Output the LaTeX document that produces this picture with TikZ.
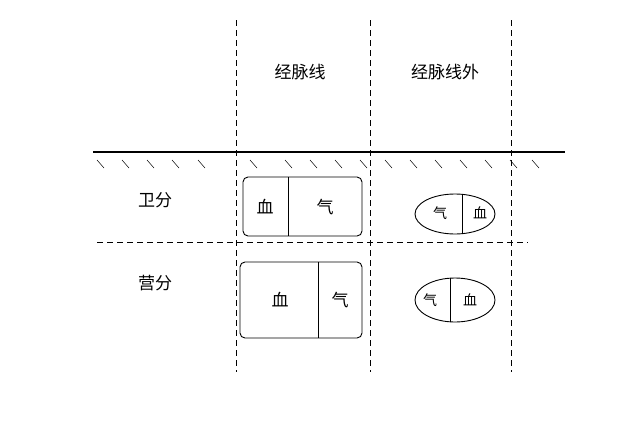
\documentclass[tikz,border=0pt]{standalone}
\usepackage{fontspec}
\newfontfamily\cjk{Noto Sans CJK SC}
\usetikzlibrary{shapes.geometric}
\begin{document}
\begin{tikzpicture}[x=1pt,y=-1pt,
  dl/.style={dashed,line width=0.8pt,dash pattern=on 6pt off 4pt},
  txt/.style={font=\cjk\fontsize{17}{17}\selectfont,inner sep=0pt},
  sm/.style={font=\cjk\fontsize{14}{14}\selectfont,inner sep=0pt},
  box/.style={draw,line width=0.9pt,rounded corners=5pt},
  ell/.style={draw,ellipse,line width=0.9pt,inner sep=0pt}]
\useasboundingbox (0,0) rectangle (640,437);
\foreach \x in {236,370,511} \draw[dl] (\x,20) -- (\x,372);
\draw[line width=2.2pt] (93,152) -- (565,152);
\foreach \x in {97,122,147,172,198,250,285,310,335,360,385,410,435,460,485,510,532}
  \draw[line width=0.5pt] (\x,160) -- (\x+7,168);
\draw[dl] (97,242) -- (528,242);
\node[txt] (l1) at (300,72) {经脉线};
\node[txt] (l2) at (445,72) {经脉线外};
\node[txt] (w) at (155,200) {卫分};
\node[txt] (y) at (155,283) {营分};
\draw[box] (243,177) rectangle (362,236);
\draw[line width=0.9pt] (288,177) -- (288,236);
\node[txt] (b1) at (265,207) {血};
\node[txt] (q1) at (325,207) {气};
\draw[box] (240,262) rectangle (362,338);
\draw[line width=0.9pt] (318,262) -- (318,338);
\node[txt] (b2) at (280,300) {血};
\node[txt] (q2) at (340,300) {气};
\node[ell,minimum width=80pt,minimum height=40pt] (e1) at (455,214) {};
\draw[line width=0.9pt] (462,194) -- (462,234);
\node[sm] (q3) at (440,213) {气};
\node[sm] (b3) at (480,213) {血};
\node[ell,minimum width=80pt,minimum height=44pt] (e2) at (455,300) {};
\draw[line width=0.9pt] (450,278) -- (450,322);
\node[sm] (q4) at (430,300) {气};
\node[sm] (b4) at (470,300) {血};
\end{tikzpicture}
\end{document}
